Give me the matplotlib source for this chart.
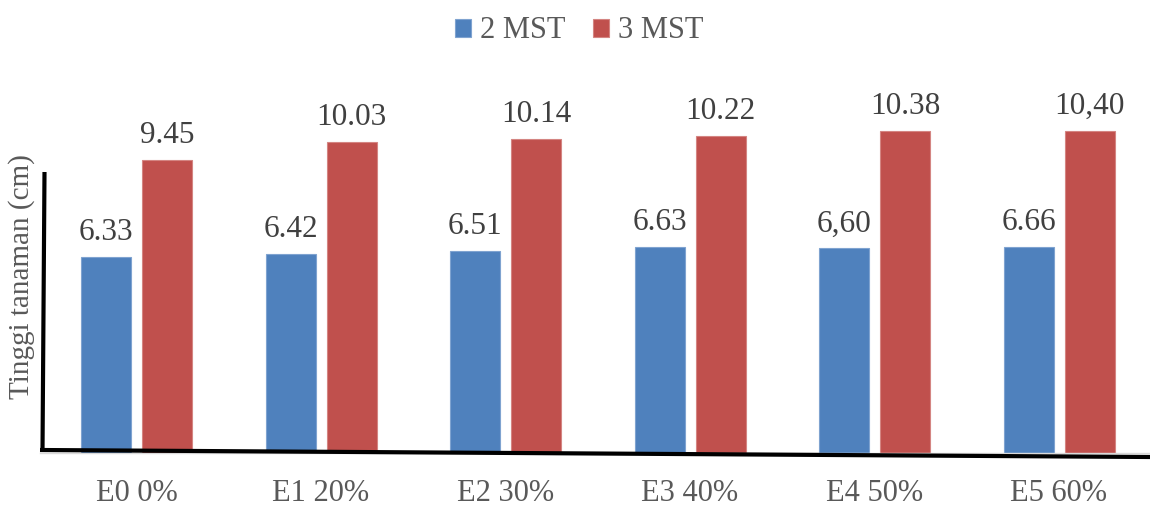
import matplotlib
matplotlib.use('Agg')
import matplotlib.pyplot as plt
from matplotlib.lines import Line2D
import numpy as np

# Plant height (cm) per treatment, two observation weeks
categories = ['E0 0%', 'E1 20%', 'E2 30%', 'E3 40%', 'E4 50%', 'E5 60%']
series_names = ['2 MST', '3 MST']
mst2 = [6.33, 6.42, 6.51, 6.63, 6.60, 6.66]
mst3 = [9.45, 10.03, 10.14, 10.22, 10.38, 10.40]
# decimal separator used in each printed value
sep2 = ['.', '.', '.', '.', ',', '.']
sep3 = ['.', '.', '.', '.', '.', ',']

plt.rcParams['font.family'] = ['Liberation Serif', 'DejaVu Serif']

W, H = 1150, 507
fig = plt.figure(figsize=(W / 100, H / 100), dpi=100)

# axes box in pixels
left_px, right_px, top_px, bottom_px = 40, 1150, 50, 453
ax = fig.add_axes([left_px / W, 1 - bottom_px / H,
                   (right_px - left_px) / W, (bottom_px - top_px) / H])

group_px = 184.5          # distance between group centres
first_center_px = 136.5   # centre of first group
px_per_unit = 31.0        # vertical scale

ax.set_xlim(-(first_center_px - left_px) / group_px,
            (right_px - first_center_px) / group_px)
ax.set_ylim(0, (bottom_px - top_px) / px_per_unit)

x = np.arange(len(categories))
bw = 50 / group_px
off = 30.5 / group_px

blue = '#4F81BD'
red = '#C0504D'
b1 = ax.bar(x - off, mst2, bw, color=blue, edgecolor='#7FA3D0', linewidth=0.8,
            label=series_names[0])
b2 = ax.bar(x + off, mst3, bw, color=red, edgecolor='#D48582', linewidth=0.8,
            label=series_names[1])

gap = 17 / px_per_unit
lab_color = '#404040'
for xi, v, s in zip(x - off, mst2, sep2):
    ax.text(xi, v + gap, f'{v:.2f}'.replace('.', s), ha='center', va='baseline',
            fontsize=22.5, color=lab_color)
for xi, v, s in zip(x + off, mst3, sep3):
    ax.text(xi, v + gap, f'{v:.2f}'.replace('.', s), ha='center', va='baseline',
            fontsize=22.5, color=lab_color)

ax.set_xticks(x)
ax.set_xticklabels(categories, fontsize=22, color='#595959')
ax.tick_params(axis='x', length=0, pad=18.5)
ax.set_yticks([])
for sp in ['top', 'right', 'left']:
    ax.spines[sp].set_visible(False)
ax.spines['bottom'].set_color('#D9D9D9')
ax.spines['bottom'].set_linewidth(1.0)

# hand-drawn axis strokes
fig.add_artist(Line2D([40 / W, 1150 / W], [1 - 450 / H, 1 - 457 / H],
                      transform=fig.transFigure, color='black', linewidth=3,
                      solid_capstyle='butt'))
fig.add_artist(Line2D([44.5 / W, 42.5 / W], [1 - 172 / H, 1 - 451 / H],
                      transform=fig.transFigure, color='black', linewidth=3,
                      solid_capstyle='butt'))

fig.text(22 / W, 1 - 277 / H, 'Tinggi tanaman (cm)', rotation=90,
         ha='center', va='center', fontsize=21, color='#595959')

fig.legend(handles=[b1, b2], labels=series_names, loc='center',
           bbox_to_anchor=(0.504, 1 - 31 / H), ncol=2, frameon=False,
           fontsize=22, handlelength=0.52, handleheight=0.52,
           handletextpad=0.3, columnspacing=0.9, labelcolor='#595959',
           borderpad=0, borderaxespad=0)

fig.savefig('out.png', dpi=100)
